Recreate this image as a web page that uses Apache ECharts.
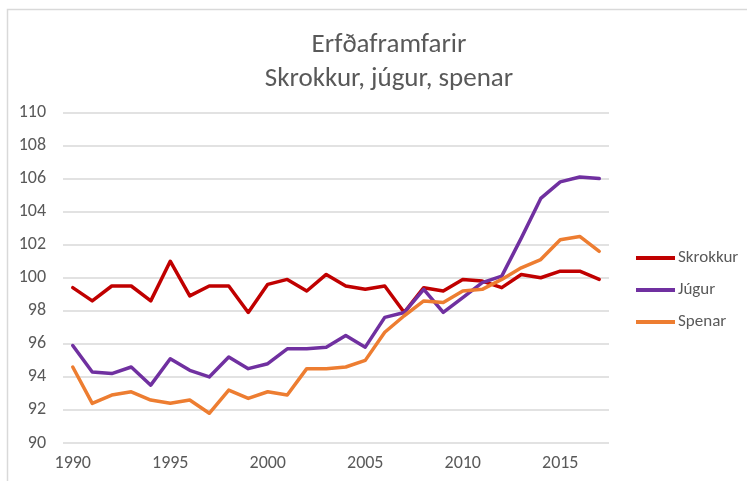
<!DOCTYPE html>
<html>
<head>
<meta charset="utf-8">
<script src="https://cdn.jsdelivr.net/npm/echarts@6/dist/echarts.min.js"></script>
<style>
html, body { margin: 0; padding: 0; background: #fff; }
#main { width: 747px; height: 481px; }
</style>
</head>
<body>
<div id="main"></div>
<script>
const years = [];
for (let y = 1990; y <= 2017; y++) years.push(String(y));

const skrokkur = [99.4, 98.6, 99.5, 99.5, 98.6, 101.0, 98.9, 99.5, 99.5, 97.9,
	99.6, 99.9, 99.2, 100.2, 99.5, 99.3, 99.5, 97.9, 99.4, 99.2,
	99.9, 99.8, 99.4, 100.2, 100.0, 100.4, 100.4, 99.9];
const jugur = [95.9, 94.3, 94.2, 94.6, 93.5, 95.1, 94.4, 94.0, 95.2, 94.5,
	94.8, 95.7, 95.7, 95.8, 96.5, 95.8, 97.6, 97.9, 99.3, 97.9,
	98.8, 99.7, 100.1, 102.4, 104.8, 105.8, 106.1, 106.0];
const spenar = [94.6, 92.4, 92.9, 93.1, 92.6, 92.4, 92.6, 91.8, 93.2, 92.7,
	93.1, 92.9, 94.5, 94.5, 94.6, 95.0, 96.7, 97.7, 98.6, 98.5,
	99.2, 99.3, 99.9, 100.6, 101.1, 102.3, 102.5, 101.6];

const seriesNames = ["Skrokkur", "Júgur", "Spenar"];
const seriesColors = ["#C00000", "#7030A0", "#ED7D31"];
const seriesData = [skrokkur, jugur, spenar];

const font = "Carlito, 'Open Sans', 'Liberation Sans', sans-serif";
const txtColor = "#595959";

var mychart = echarts.init(document.getElementById("main"));

const option = {
	animation: false,
	backgroundColor: "#ffffff",
	graphic: [{
		type: "rect",
		shape: {x: 7.5, y: 9.5, width: 800, height: 600},
		style: {fill: "none", stroke: "#d9d9d9", lineWidth: 1.5},
		silent: true
	}],
	title: [
		{text: "Erfðaframfarir", left: 384, top: 27, textAlign: "center",
			textStyle: {fontFamily: font, fontSize: 27, fontWeight: "normal", color: txtColor}},
		{text: "Skrokkur, júgur, spenar", left: 384, top: 61, textAlign: "center",
			textStyle: {fontFamily: font, fontSize: 27, fontWeight: "normal", color: txtColor}}
	],
	legend: {
		orient: "vertical",
		left: 636,
		top: 249.5,
		padding: 0,
		icon: "rect",
		itemWidth: 39,
		itemHeight: 4,
		itemGap: 15,
		textStyle: {fontFamily: font, fontSize: 17, color: txtColor, padding: [0, 0, 0, -2], height: 17, lineHeight: 17},
		data: seriesNames
	},
	grid: {left: 63, right: 138, top: 112.5, bottom: 38},
	xAxis: {
		type: "category",
		data: years,
		boundaryGap: true,
		axisLine: {show: false},
		axisTick: {show: false},
		axisLabel: {interval: 4, margin: 11, fontFamily: font, fontSize: 18, color: txtColor}
	},
	yAxis: {
		type: "value",
		min: 90,
		max: 110,
		interval: 2,
		axisLine: {show: false},
		axisTick: {show: false},
		splitLine: {lineStyle: {color: "#d9d9d9", width: 1.5}},
		axisLabel: {margin: 17, fontFamily: font, fontSize: 18, color: txtColor}
	},
	series: seriesNames.map(function(name, i){
		return {
			name: name,
			type: "line",
			data: seriesData[i],
			symbol: "none",
			color: seriesColors[i],
			lineStyle: {width: 3.5, join: "round", cap: "round"}
		};
	})
};
mychart.setOption(option);
</script>
</body>
</html>
